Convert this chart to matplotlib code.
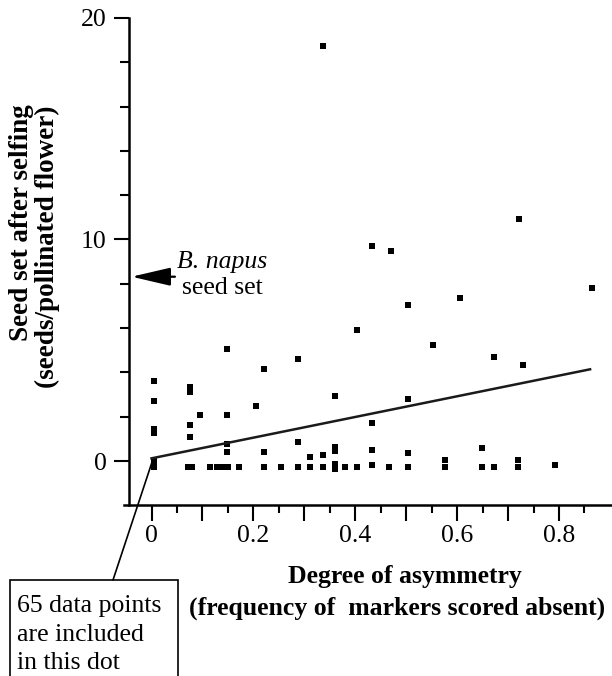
import numpy as np
import matplotlib
matplotlib.use('Agg')
import matplotlib.pyplot as plt
from matplotlib.ticker import FixedLocator, FixedFormatter

plt.rcParams['font.family'] = ['Liberation Serif', 'DejaVu Serif']

# asymmetry (x) vs seed set after selfing (y)
asym = [0.336, 0.721, 0.433, 0.471, 0.865, 0.605, 0.504, 0.403, 0.552, 0.148,
        0.672, 0.288, 0.729, 0.220, 0.004, 0.076, 0.076, 0.360, 0.504, 0.004,
        0.206, 0.095, 0.148, 0.432, 0.076, 0.004, 0.004, 0.076, 0.288, 0.148,
        0.360, 0.648, 0.432, 0.360, 0.148, 0.220, 0.504, 0.336, 0.312, 0.576,
        0.720,
        0.004, 0.004,
        0.071, 0.080, 0.115, 0.129, 0.134, 0.139, 0.150, 0.172, 0.221, 0.255,
        0.288, 0.312, 0.336, 0.360, 0.360, 0.380, 0.403, 0.432, 0.466, 0.504,
        0.576, 0.648, 0.672, 0.720, 0.793]
seed_set = [18.75, 10.93, 9.71, 9.49, 7.82, 7.37, 7.03, 5.92, 5.25, 5.04,
            4.70, 4.59, 4.35, 4.15, 3.61, 3.36, 3.13, 2.93, 2.81, 2.72,
            2.50, 2.06, 2.06, 1.70, 1.63, 1.43, 1.28, 1.07, 0.84, 0.75,
            0.62, 0.60, 0.50, 0.47, 0.39, 0.39, 0.37, 0.27, 0.17, 0.06,
            0.06,
            0.00, -0.25,
            -0.27, -0.27, -0.27, -0.27, -0.27, -0.27, -0.27, -0.27, -0.27, -0.27,
            -0.27, -0.27, -0.27, -0.12, -0.38, -0.27, -0.27, -0.17, -0.27, -0.27,
            -0.27, -0.27, -0.27, -0.27, -0.18]

# regression line end points
fit_x = [0.0, 0.861]
fit_y = [0.12, 4.14]

napus_seed_set = 8.32

x_major = [0, 0.1, 0.2, 0.3, 0.4, 0.5, 0.6, 0.7, 0.8]
x_major_labels = ['0', '', '0.2', '', '0.4', '', '0.6', '', '0.8']
x_minor = [0.05, 0.15, 0.25, 0.35, 0.45, 0.55, 0.65, 0.75, 0.85]
y_major = [0, 10, 20]
y_minor = [2, 4, 6, 8, 12, 14, 16, 18]

W, H = 612, 676
FS = 18.5

def fp(x, y):
  # pixel position -> figure fraction
  return x / W, 1 - y / H

fig = plt.figure(figsize=(W / 100, H / 100), dpi=100)
ax = fig.add_axes([124 / W, 1 - 505.3 / H, 488.5 / W, (505.3 - 18) / H])
ax.set_xlim(-0.054, 0.905)
ax.set_ylim(-2, 20)

ax.plot(asym, seed_set, 's', color='black', ms=3.8, mew=0, clip_on=False)
ax.plot(fit_x, fit_y, '-', color='#1a1a1a', lw=1.8)

for s in ['top', 'right']:
  ax.spines[s].set_visible(False)
ax.spines['left'].set_position(('data', -0.044))
for s in ['left', 'bottom']:
  ax.spines[s].set_linewidth(1.8)

ax.xaxis.set_major_locator(FixedLocator(x_major))
ax.xaxis.set_major_formatter(FixedFormatter(x_major_labels))
ax.xaxis.set_minor_locator(FixedLocator(x_minor))
ax.yaxis.set_major_locator(FixedLocator(y_major))
ax.yaxis.set_minor_locator(FixedLocator(y_minor))

ax.tick_params(axis='x', which='major', length=11.5, width=1.5, labelsize=FS, pad=3)
ax.tick_params(axis='x', which='minor', length=6, width=1.5)
ax.tick_params(axis='y', which='major', length=11, width=1.5, labelsize=FS, pad=5)
ax.tick_params(axis='y', which='minor', length=6.5, width=1.5)

# B. napus arrow
ax.annotate('', xy=(-0.039, napus_seed_set), xytext=(0.046, napus_seed_set),
            arrowprops=dict(arrowstyle='-|>,head_length=1.2,head_width=0.28',
                            mutation_scale=20, lw=1.6, color='black',
                            shrinkA=0, shrinkB=0))
fig.text(*fp(177, 262), 'B. napus', style='italic', fontsize=FS, ha='left', va='center')
fig.text(*fp(182, 288), 'seed set', fontsize=FS, ha='left', va='center')

# axis labels
fig.text(*fp(22, 223), 'Seed set after selfing', rotation=90, fontsize=19.5,
         fontweight='bold', ha='center', va='center')
fig.text(*fp(47, 247), '(seeds/pollinated flower)', rotation=90, fontsize=19.5,
         fontweight='bold', ha='center', va='center')
fig.text(*fp(405, 577), 'Degree of asymmetry', fontsize=FS, fontweight='bold',
         ha='center', va='center')
fig.text(*fp(397, 608), '(frequency of  markers scored absent)', fontsize=FS,
         fontweight='bold', ha='center', va='center')

# callout box for the 65-point dot
box = plt.Rectangle(fp(10, 700), 168 / W, 120 / H, transform=fig.transFigure,
                    fill=False, lw=1.2, ec='black', clip_on=False)
fig.patches.append(box)
fig.text(*fp(17, 606), '65 data points', fontsize=FS, ha='left', va='center')
fig.text(*fp(17, 635), 'are included', fontsize=FS, ha='left', va='center')
fig.text(*fp(17, 663), 'in this dot', fontsize=FS, ha='left', va='center')
ax.annotate('', xy=(0.001, -0.05), xycoords='data',
            xytext=fp(113, 580), textcoords='figure fraction',
            arrowprops=dict(arrowstyle='-', lw=1.2, color='black',
                            shrinkA=0, shrinkB=0))

fig.savefig('out.png', dpi=100)
